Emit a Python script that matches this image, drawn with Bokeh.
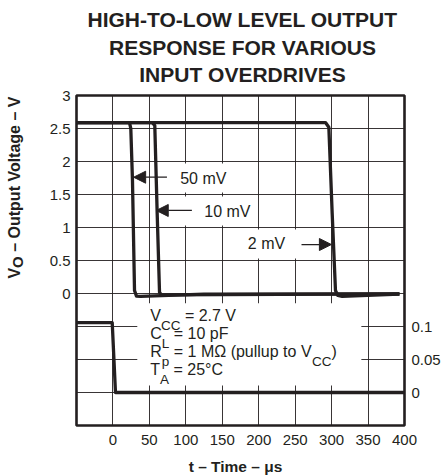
import math
from bokeh.plotting import figure
from bokeh.layouts import column, row
from bokeh.models import (Range1d, LinearAxis, FixedTicker, Label, Arrow,
                          NormalHead, BoxAnnotation)
from bokeh.embed import file_html
from bokeh.resources import INLINE

# ---------------- data ----------------
t_50mv = [-50, 22.7, 24.5, 26.8, 29.6, 32.3, 37.8, 124.7, 393]
v_50mv = [2.59, 2.59, 2.50, 1.71, 0.045, -0.04, -0.045, -0.01, -0.005]

t_10mv = [-50, 53.9, 57.4, 60.7, 63.9, 66.2, 393]
v_10mv = [2.59, 2.59, 2.545, 1.21, 0.02, -0.02, -0.005]

t_2mv = [-50, 291.6, 296.2, 300.8, 305.3, 308.5, 314.5, 393]
v_2mv = [2.59, 2.59, 2.52, 1.21, 0.045, -0.03, -0.045, -0.01]

t_input = [-50, -1, 3.5, 400]
v_input = [0.106, 0.106, 0.0, 0.0]

x_ticks = [0, 50, 100, 150, 200, 250, 300, 350, 400]
x_tick_labels = ["0", "50", "100", "150", "200", "250", "300", "350", "400"]
y_ticks = [0, 0.5, 1, 1.5, 2, 2.5, 3]
y_tick_labels = ["0", "0.5", "1", "1.5", "2", "2.5", "3"]
y2_ticks = [0, 0.05, 0.1]
y2_tick_labels = ["0", "0.05", "0.1"]

title_lines = ["HIGH-TO-LOW LEVEL OUTPUT", "RESPONSE FOR VARIOUS", "INPUT OVERDRIVES"]
overdrive_labels = ["50 mV", "10 mV", "2 mV"]
x_title = "t – Time – μs"

INK = "#231f20"
FONT = "Liberation Sans"

# Arial / Liberation Sans advance widths (1/1000 em) for layout of split texts
W = {' ': 278, '=': 584, '.': 278, 'V': 667, 'C': 722, 'L': 556, 'R': 722,
     'p': 556, 'T': 611, 'A': 667, 'M': 833, 'Ω': 768, '(': 333, ')': 333,
     'u': 556, 'l': 222, 't': 278, 'o': 556, 'F': 611, '°': 400, 'O': 778}


def tw(s, size):
    return sum(W.get(c, 556) for c in s) * size / 1000.0


def blank_fig(w, h):
    f = figure(width=w, height=h, x_range=Range1d(0, w), y_range=Range1d(0, h),
               x_axis_type=None, y_axis_type=None, output_backend="svg",
               toolbar_location=None, title=None, min_border=0,
               background_fill_color="white", border_fill_color="white")
    f.outline_line_color = None
    f.grid.visible = False
    return f


# ---------------- main plot ----------------
LEFT_W = 30
p = figure(width=443 - LEFT_W, height=365,
           x_range=Range1d(-50, 400), y_range=Range1d(-2, 3),
           output_backend="svg", toolbar_location=None, title=None,
           min_border_left=76 - LEFT_W, min_border_right=38,
           min_border_top=8, min_border_bottom=27,
           background_fill_color="white", border_fill_color="white")

p.extra_y_ranges = {"input": Range1d(-0.05, 0.45)}

p.xgrid.ticker = FixedTicker(ticks=[-50 + 50 * i for i in range(10)])
p.ygrid.ticker = FixedTicker(ticks=[-2 + 0.5 * i for i in range(11)])
for g in (p.xgrid, p.ygrid):
    g.grid_line_color = INK
    g.grid_line_width = 1
    g.grid_line_alpha = 0.9

p.outline_line_color = INK
p.outline_line_width = 2.6
p.outline_line_alpha = 1


def style_axis(ax, standoff):
    ax.axis_line_color = None
    ax.major_tick_line_color = None
    ax.minor_tick_line_color = None
    ax.major_tick_out = 0
    ax.major_tick_in = 0
    ax.major_label_standoff = standoff
    ax.major_label_text_font = FONT
    ax.major_label_text_font_size = "15px"
    ax.major_label_text_color = INK


p.xaxis.ticker = FixedTicker(ticks=x_ticks)
p.xaxis.major_label_overrides = dict(zip(x_ticks, x_tick_labels))
style_axis(p.xaxis[0], 9)

p.yaxis.ticker = FixedTicker(ticks=y_ticks)
p.yaxis.major_label_overrides = dict(zip(y_ticks, y_tick_labels))
style_axis(p.yaxis[0], 6)

ax2 = LinearAxis(y_range_name="input", ticker=FixedTicker(ticks=y2_ticks))
ax2.major_label_overrides = dict(zip(y2_ticks, y2_tick_labels))
style_axis(ax2, 7)
p.add_layout(ax2, "right")

# white masks behind the annotations (they interrupt the grid in the reference)
for (l, r, b, t) in [(33.4, 340.8, -1.394, -0.147),
                     (70, 175, 1.53, 1.97),
                     (90, 196, 1.03, 1.47),
                     (175, 265, 0.53, 0.97)]:
    p.add_layout(BoxAnnotation(left=l, right=r, bottom=b, top=t,
                               fill_color="white", fill_alpha=1,
                               line_color=None, level="underlay"))

lw = 3.3
p.line(t_input, v_input, y_range_name="input", line_color=INK, line_width=lw,
       line_join="round")
p.line(t_50mv, v_50mv, line_color=INK, line_width=lw, line_join="round")
p.line(t_10mv, v_10mv, line_color=INK, line_width=lw, line_join="round")
p.line(t_2mv, v_2mv, line_color=INK, line_width=lw, line_join="round")

arrows = [(74.1, 28.4, 1.762), (108.3, 59.4, 1.258), (258.7, 299.7, 0.742)]
for (xs, xe, y) in arrows:
    p.add_layout(Arrow(end=NormalHead(size=12, fill_color=INK, line_color=INK),
                       x_start=xs, y_start=y, x_end=xe, y_end=y,
                       line_color=INK, line_width=1.3))
for txt, (x, y) in zip(overdrive_labels, [(92.3, 1.738), (125.3, 1.242), (185.0, 0.764)]):
    p.add_layout(Label(x=x, y=y, text=txt, text_font=FONT, text_font_size="16px",
                       text_color=INK, text_baseline="middle"))

# conditions block with subscripts (anchors are cap centres)
MAIN, SUB, SUB_SHIFT = 16, 13.5, 9.9
cond_lines = [
    [("V", 0), ("CC", 1), (" = 2.7 V", 0)],
    [("C", 0), ("L", 1), (" = 10 pF", 0)],
    [("R", 0), ("p", 1), (" = 1 MΩ (pullup to V", 0), ("CC", 1), (")", 0)],
    [("T", 0), ("A", 1), (" = 25°C", 0)],
]
cond_y = [-0.338, -0.603, -0.879, -1.156]
for segs, y in zip(cond_lines, cond_y):
    off = 0.0
    for txt, sub in segs:
        size = SUB if sub else MAIN
        if txt.startswith(" "):
            off += tw(" ", size)
            txt = txt[1:]
        p.add_layout(Label(x=51.2, y=y, x_offset=off,
                           y_offset=-SUB_SHIFT if sub else 0,
                           text=txt, text_font=FONT, text_font_size=f"{size}px",
                           text_color=INK, text_baseline="middle"))
        off += tw(txt, size)

# ---------------- title strip ----------------
top = blank_fig(443, 87)
for txt, y in zip(title_lines, [67.6, 40.1, 12.6]):
    top.add_layout(Label(x=242, y=y, text=txt, text_font=FONT,
                         text_font_size="21px", text_font_style="bold",
                         text_color=INK, text_align="center",
                         text_baseline="middle"))

# ---------------- y-axis title strip (rotated, subscript O) ----------------
left = blank_fig(LEFT_W, 365)
YS, YSUB = 16, 15
off = 0.0
for txt, sub in [("V", 0), ("O", 1), (" – Output Voltage – V", 0)]:
    size = YSUB if sub else YS
    if txt.startswith(" "):
        off += tw(" ", size)
        txt = txt[1:]
    left.add_layout(Label(x=14, y=162.5, x_offset=3 if sub else 0, y_offset=off,
                          angle=math.pi / 2, text=txt, text_font=FONT,
                          text_font_size=f"{size}px", text_font_style="bold",
                          text_color=INK, text_baseline="middle"))
    off += tw(txt, size)

# ---------------- x-axis title strip ----------------
bottom = blank_fig(443, 23)
bottom.add_layout(Label(x=235, y=9.5, text=x_title, text_font=FONT,
                        text_font_size="15.5px", text_font_style="bold",
                        text_color=INK, text_align="center",
                        text_baseline="middle"))

layout = column(top, row(left, p, spacing=0), bottom, spacing=0)

open("out.html", "w").write(file_html(layout, INLINE))
